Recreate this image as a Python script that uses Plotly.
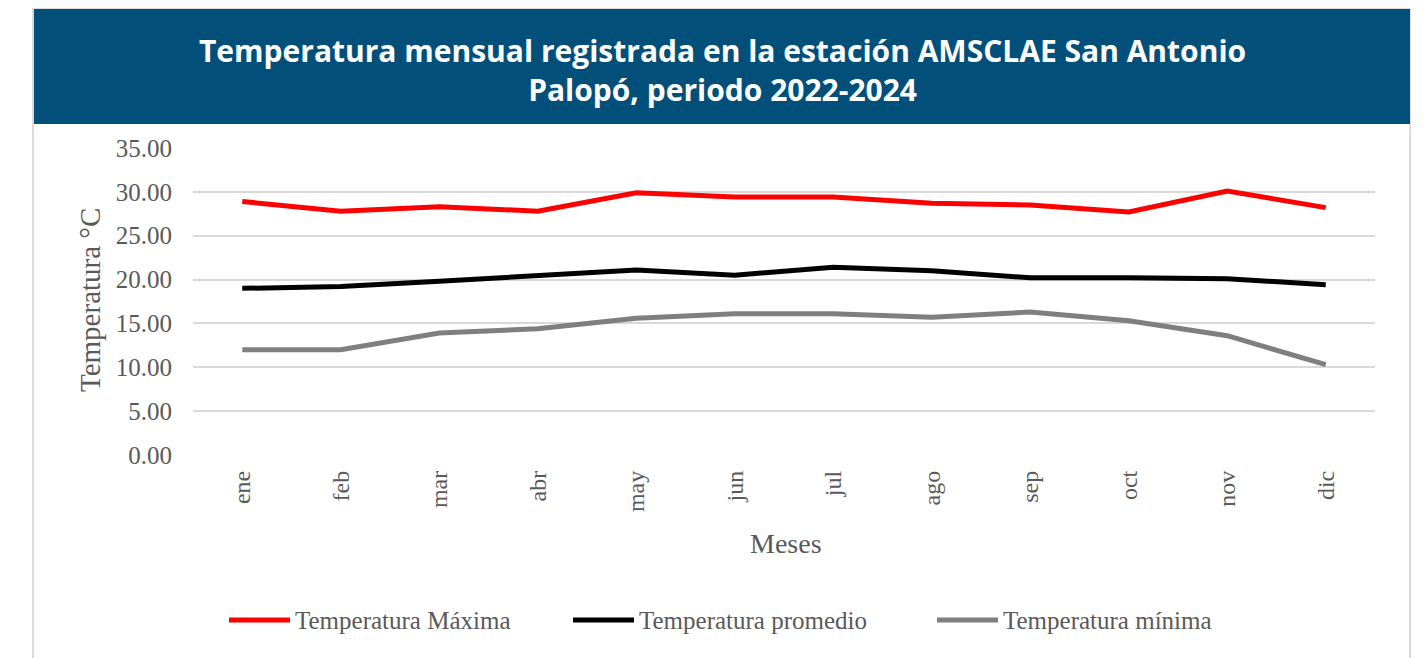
import plotly.graph_objects as go

months = ["ene", "feb", "mar", "abr", "may", "jun", "jul", "ago", "sep", "oct", "nov", "dic"]
t_max = [28.9, 27.8, 28.3, 27.8, 29.9, 29.4, 29.4, 28.7, 28.5, 27.7, 30.1, 28.2]
t_avg = [19.0, 19.2, 19.8, 20.4, 21.1, 20.5, 21.4, 21.0, 20.2, 20.2, 20.1, 19.4]
t_min = [12.0, 12.0, 13.9, 14.4, 15.6, 16.1, 16.1, 15.7, 16.3, 15.3, 13.6, 10.3]
series_names = ["Temperatura Máxima", "Temperatura promedio", "Temperatura mínima"]
series_colors = ["#FF0000", "#000000", "#7F7F7F"]
title_text = "Temperatura mensual registrada en la estación AMSCLAE San Antonio<br>Palopó, periodo 2022-2024"

# page body has an 8px margin; work in screen pixels and convert
OFF = 8
W, H = 1424 - OFF, 658 - OFF
PX0, PX1, PY0, PY1 = 193, 1375, 148, 455  # plot area in screen px
L, R, T, B = PX0 - OFF, W - (PX1 - OFF), PY0 - OFF, H - (PY1 - OFF)
pw, ph = PX1 - PX0, PY1 - PY0


def px(x):
    return (x - PX0) / pw


def py(y):
    return (PY1 - y) / ph


serif = "Liberation Serif"
gray_txt = "#595959"

fig = go.Figure()
for name, vals, col in zip(series_names, [t_max, t_avg, t_min], series_colors):
    fig.add_trace(go.Scatter(x=months, y=vals, name=name, mode="lines",
                             line=dict(color=col, width=5, shape="linear"),
                             hoverinfo="x+y+name", showlegend=False))

shapes = [
    dict(type="rect", xref="paper", yref="paper", x0=px(33), x1=px(1410), y0=py(680), y1=py(8),
         line=dict(color="#D0D0D0", width=1.5), fillcolor="rgba(0,0,0,0)", layer="below"),
    dict(type="rect", xref="paper", yref="paper", x0=px(34), x1=px(1410), y0=py(124), y1=py(9),
         line=dict(width=0), fillcolor="#02507A", layer="below"),
]
annotations = [
    dict(text="<b>" + title_text + "</b>", xref="paper", yref="paper", x=px(722), y=py(70),
         xanchor="center", yanchor="middle", showarrow=False, align="center",
         font=dict(family="Open Sans", size=30, color="white")),
    dict(text="Temperatura °C", xref="paper", yref="paper", x=px(90), y=py(300),
         xanchor="center", yanchor="middle", showarrow=False, textangle=-90,
         font=dict(family=serif, size=29, color=gray_txt)),
    dict(text="Meses", xref="paper", yref="paper", x=px(786), y=py(543),
         xanchor="center", yanchor="middle", showarrow=False,
         font=dict(family=serif, size=28, color=gray_txt)),
]

# manual legend (long line samples as in the reference)
leg_line_x = [(229, 290), (573, 634), (937, 998)]
leg_y = 620
for (x0, x1), name, col in zip(leg_line_x, series_names, series_colors):
    shapes.append(dict(type="line", xref="paper", yref="paper", x0=px(x0), x1=px(x1),
                       y0=py(leg_y), y1=py(leg_y), line=dict(color=col, width=5)))
    annotations.append(dict(text=name, xref="paper", yref="paper", x=px(x1 + 3), y=py(leg_y),
                            xanchor="left", yanchor="middle", showarrow=False,
                            font=dict(family=serif, size=25, color=gray_txt)))

fig.update_layout(
    width=W, height=H,
    margin=dict(l=L, r=R, t=T, b=B, pad=0),
    paper_bgcolor="white", plot_bgcolor="white",
    showlegend=False,
    xaxis=dict(showgrid=False, showline=False, zeroline=False, tickangle=-90,
               range=[-0.5, 11.5],
               tickfont=dict(family=serif, size=24, color=gray_txt),
               ticks="", ticklabelstandoff=10, fixedrange=True),
    yaxis=dict(range=[0, 35], dtick=5, tickformat=".2f", showgrid=True,
               gridcolor="#D9D9D9", gridwidth=1.5, zeroline=False, showline=False,
               tickfont=dict(family=serif, size=25, color=gray_txt),
               ticks="", ticklabelstandoff=20, fixedrange=True),
    shapes=shapes,
    annotations=annotations,
)

fig.write_html("out.html")
